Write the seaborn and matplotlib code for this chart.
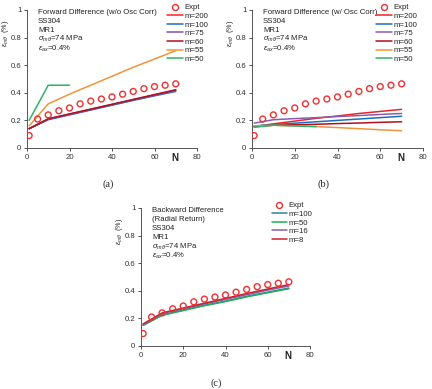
import numpy as np
import pandas as pd
import matplotlib
matplotlib.use("Agg")
import matplotlib.pyplot as plt
import seaborn as sns
from matplotlib.lines import Line2D

sns.set_style("ticks")
plt.rcParams['font.family'] = ['Liberation Sans', 'DejaVu Sans']
plt.rcParams['mathtext.fontset'] = 'custom'
plt.rcParams['mathtext.rm'] = 'Liberation Sans'
plt.rcParams['mathtext.it'] = 'Liberation Sans:italic'
plt.rcParams['mathtext.bf'] = 'Liberation Sans:bold'

# ---- data ----
expt_N = [1, 5, 10, 15, 20, 25, 30, 35, 40, 45, 50, 55, 60, 65, 70]
expt_v = [0.09, 0.21, 0.24, 0.27, 0.29, 0.32, 0.34, 0.355, 0.37, 0.39, 0.41, 0.43, 0.445, 0.455, 0.465]

N_full = [1, 10, 20, 30, 40, 50, 60, 70]

# panel (a)
a_labels = ["m=200", "m=100", "m=75", "m=60", "m=55", "m=50"]
a_colors = ["#FF2020", "#1F6FB8", "#7B52A6", "#B01020", "#F0943C", "#2DB36A"]
a_N = [N_full, N_full, N_full, N_full, N_full, [1, 10, 20]]
a_vals = [
    [0.14, 0.21, 0.245, 0.28, 0.315, 0.35, 0.385, 0.42],
    [0.14, 0.205, 0.24, 0.275, 0.31, 0.345, 0.378, 0.41],
    [0.14, 0.208, 0.243, 0.278, 0.313, 0.348, 0.382, 0.415],
    [0.14, 0.212, 0.247, 0.282, 0.317, 0.352, 0.387, 0.422],
    [0.16, 0.32, 0.39, 0.455, 0.52, 0.585, 0.645, 0.705],
    [0.20, 0.455, 0.455],
]

# panel (b)
b_labels = ["m=200", "m=100", "m=75", "m=60", "m=55", "m=50"]
b_colors = ["#E8262A", "#1F6FB8", "#8A5BB0", "#B01020", "#F0943C", "#2DB36A"]
b_N = [N_full, N_full, N_full, N_full, N_full, [1, 10, 20, 30]]
b_vals = [
    [0.155, 0.175, 0.195, 0.215, 0.232, 0.25, 0.265, 0.28],
    [0.16, 0.17, 0.18, 0.19, 0.2, 0.21, 0.22, 0.23],
    [0.18, 0.205, 0.213, 0.22, 0.228, 0.235, 0.243, 0.25],
    [0.155, 0.165, 0.168, 0.172, 0.177, 0.181, 0.186, 0.19],
    [0.16, 0.165, 0.16, 0.155, 0.148, 0.14, 0.132, 0.125],
    [0.15, 0.165, 0.16, 0.155],
]

# panel (c)
c_labels = ["m=100", "m=50", "m=16", "m=8"]
c_colors = ["#2F7FA0", "#1FAF55", "#8A5BB0", "#D02030"]
c_N = [N_full, N_full, N_full, N_full]
c_vals = [
    [0.15, 0.225, 0.26, 0.295, 0.325, 0.36, 0.39, 0.42],
    [0.15, 0.222, 0.257, 0.292, 0.322, 0.356, 0.386, 0.415],
    [0.155, 0.235, 0.27, 0.305, 0.338, 0.372, 0.405, 0.435],
    [0.16, 0.24, 0.275, 0.31, 0.345, 0.38, 0.413, 0.445],
]

FS = 5.6

fig = plt.figure(figsize=(4.32, 3.89), dpi=100)


def long_df(labels, Ns, vals):
    rows = []
    for lab, n, v in zip(labels, Ns, vals):
        for x, y in zip(n, v):
            rows.append((lab, x, y))
    return pd.DataFrame(rows, columns=["series", "N", "val"])


def panel(rect, labels, colors, Ns, vals, texts, leg_anchor):
    ax = fig.add_axes(rect)
    df = long_df(labels, Ns, vals)
    sns.lineplot(data=df, x="N", y="val", hue="series", hue_order=labels,
                 palette=dict(zip(labels, colors)), legend=False, sort=False,
                 linewidth=1.1, ax=ax)
    edf = pd.DataFrame({"N": expt_N, "val": expt_v})
    sns.scatterplot(data=edf, x="N", y="val", marker="o", s=18,
                    facecolors="none", edgecolor="#F03030", linewidth=1.0, ax=ax, zorder=5)
    ax.set_xlim(0, 80)
    ax.set_ylim(0, 1)
    ax.set_xticks([0, 20, 40, 60, 80])
    ax.set_yticks([0, 0.2, 0.4, 0.6, 0.8, 1])
    ax.set_yticklabels(["0", "0.2", "0.4", "0.6", "0.8", "1"])
    ax.tick_params(labelsize=FS, length=2.5, width=0.6, pad=1.5, colors="#333333")
    for s in ["left", "bottom"]:
        ax.spines[s].set_linewidth(0.7)
        ax.spines[s].set_color("#555555")
    sns.despine(ax=ax)
    ax.set_xlabel("")
    ax.set_ylabel("")
    for line in ax.lines:
        line.set_clip_on(False)
    ax.text(0.87, -0.075, "N", transform=ax.transAxes, fontsize=7, fontweight="bold",
            ha="center", va="center")
    ax.text(-0.125, 0.83, r"$\varepsilon_{m\theta}$  (%)", transform=ax.transAxes,
            fontsize=5.2, rotation=90, ha="center", va="center")
    y0 = 0.985
    for t in texts:
        ax.text(0.065, y0, t, transform=ax.transAxes, fontsize=FS, ha="left", va="center",
                color="#222222")
        y0 -= 0.066
    handles = [Line2D([], [], marker="o", linestyle="none", markerfacecolor="none",
                      markeredgecolor="#F03030", markersize=4.3, markeredgewidth=1.0)]
    handles += [Line2D([], [], color=c, linewidth=1.1) for c in colors]
    ax.legend(handles, ["Expt"] + labels, loc="upper right", bbox_to_anchor=leg_anchor,
              fontsize=FS, frameon=False, handlelength=2.0, handletextpad=0.2,
              labelspacing=0.15, borderpad=0.1, borderaxespad=0)
    return ax


sig = r"$\sigma_{m\theta}$=74 MPa"
eps = r"$\varepsilon_{ax}$=0.4%"

panel([27 / 432, 1 - 148 / 389, 170 / 432, 138 / 389], a_labels, a_colors, a_N, a_vals,
      ["Forward Difference (w/o Osc Corr)", "SS304", "MR1", sig, eps], (1.07, 1.05))
panel([252 / 432, 1 - 148 / 389, 171 / 432, 138 / 389], b_labels, b_colors, b_N, b_vals,
      ["Forward Difference (w/ Osc Corr)", "SS304", "MR1", sig, eps], (0.97, 1.05))
panel([141 / 432, 1 - 346 / 389, 169 / 432, 138 / 389], c_labels, c_colors, c_N, c_vals,
      ["Backward Difference", "(Radial Return)", "SS304", "MR1", sig, eps], (1.02, 1.05))

for x, y, t in [(108, 184, "(a)"), (324, 184, "(b)"), (216, 383, "(c)")]:
    fig.text(x / 432, 1 - y / 389, t, fontsize=7.5, family="Liberation Serif",
             ha="center", va="center")

fig.savefig("out.png", dpi=100)
